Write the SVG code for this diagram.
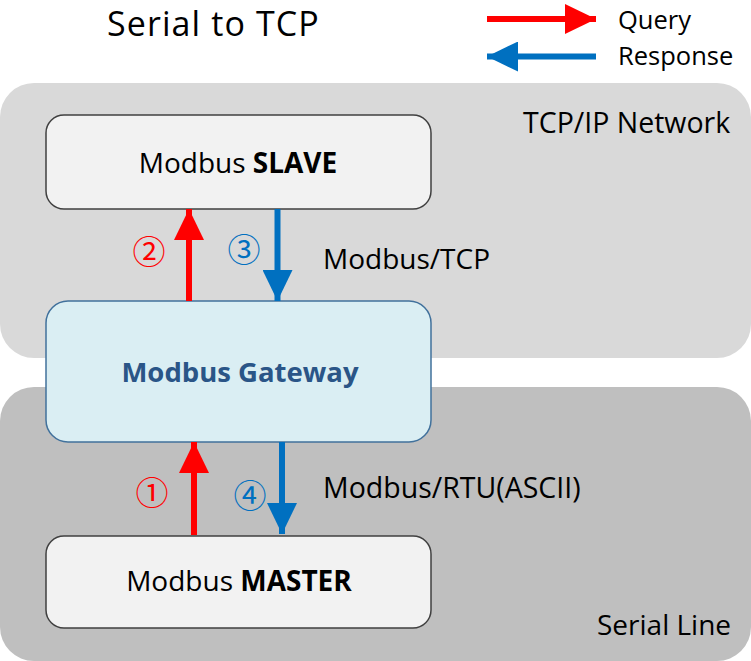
<svg xmlns="http://www.w3.org/2000/svg" width="751" height="661" viewBox="0 0 751 661">
<defs>
<style>
text{font-family:"Open Sans","Liberation Sans","Noto Sans CJK KR",sans-serif;fill:#000}
.lbl{font-size:28px}
.node{stroke-width:1.5}
.plain{fill:#f2f2f2;stroke:#404040}
.gw{fill:#daeef3;stroke:#41719c}
.red{stroke:#ff0000;stroke-width:6;fill:none}
.blue{stroke:#0070c0;stroke-width:6;fill:none}
.num{font-family:"Noto Sans CJK KR","DejaVu Sans",sans-serif;font-size:33px;text-anchor:middle;dominant-baseline:central}
</style>
<marker id="hr" markerUnits="userSpaceOnUse" markerWidth="31" markerHeight="30" refX="31" refY="15" orient="auto"><path d="M0,0 L31,15 L0,30 Z" fill="#ff0000"/></marker>
<marker id="hb" markerUnits="userSpaceOnUse" markerWidth="31" markerHeight="30" refX="31" refY="15" orient="auto"><path d="M0,0 L31,15 L0,30 Z" fill="#0070c0"/></marker>
</defs>
<rect width="751" height="661" fill="#ffffff"/>
<g id="tcp-network">
<rect x="0" y="83" width="751" height="275" rx="34" fill="#d9d9d9"/>
<text x="523" y="133" class="lbl" style="font-size:28.5px">TCP/IP Network</text>
</g>
<g id="serial-line">
<rect x="0" y="387" width="751" height="274" rx="34" fill="#bfbfbf"/>
<text x="597" y="635" class="lbl">Serial Line</text>
</g>
<g id="title">
<text x="107" y="36" style="font-size:34px;letter-spacing:1.1px">Serial to TCP</text>
</g>
<g id="legend">
<line x1="487" y1="19" x2="596" y2="19" class="red" marker-end="url(#hr)"/>
<line x1="596" y1="56.5" x2="487" y2="56.5" class="blue" marker-end="url(#hb)"/>
<text x="618" y="29" style="font-size:25.5px">Query</text>
<text x="618" y="65" style="font-size:25.5px">Response</text>
</g>
<g id="slave">
<rect x="46" y="115" width="385" height="94" rx="18" class="node plain"/>
<text x="238" y="173" class="lbl" text-anchor="middle">Modbus <tspan font-weight="bold">SLAVE</tspan></text>
</g>
<g id="gateway">
<rect x="46" y="301" width="385" height="141" rx="22" class="node gw"/>
<text x="240" y="382" text-anchor="middle" style="font-size:27.5px;font-weight:bold;fill:#2a5587">Modbus Gateway</text>
</g>
<g id="master">
<rect x="46" y="536" width="385" height="92" rx="18" class="node plain"/>
<text x="239" y="591" class="lbl" text-anchor="middle">Modbus <tspan font-weight="bold">MASTER</tspan></text>
</g>
<g id="connectors">
<line x1="189" y1="301" x2="189" y2="209" class="red" marker-end="url(#hr)"/>
<line x1="277.5" y1="209" x2="277.5" y2="301" class="blue" marker-end="url(#hb)"/>
<line x1="194" y1="535" x2="194" y2="442" class="red" marker-end="url(#hr)"/>
<line x1="282" y1="442" x2="282" y2="534" class="blue" marker-end="url(#hb)"/>
<text x="149" y="250" class="num" style="fill:#ff0000">②</text>
<text x="244" y="248" class="num" style="fill:#0070c0">③</text>
<text x="152" y="491" class="num" style="fill:#ff0000">①</text>
<text x="250" y="494" class="num" style="fill:#0070c0">④</text>
<text x="323" y="269" class="lbl">Modbus/TCP</text>
<text x="323" y="498" class="lbl" style="font-size:28.5px">Modbus/RTU(ASCII)</text>
</g>
</svg>
